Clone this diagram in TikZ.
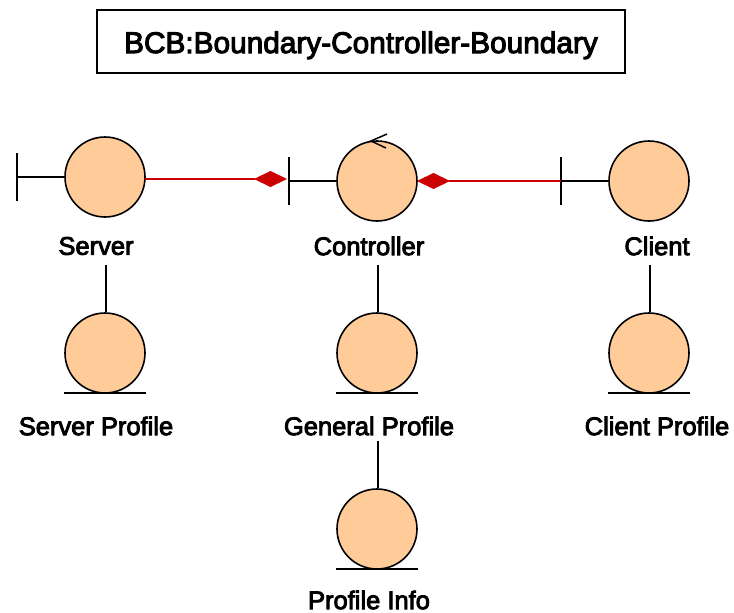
\documentclass[tikz,border=0pt]{standalone}
\usepackage{fontspec}
\setmainfont[UprightFeatures={RawFeature={embolden=3.4}}]{Liberation Sans}
\usetikzlibrary{arrows.meta}
\definecolor{bcbfill}{HTML}{FFCC99}
\definecolor{bcbred}{HTML}{CC0000}
\tikzset{
	robust/.style = {circle, draw, line width = 1.6pt, fill = bcbfill, minimum size = 80pt, inner sep = 0pt},
	caption/.style = {font = \fontsize{25.5}{28}\selectfont, inner sep = 0pt},
	stem/.style = {line width = 1.6pt},
	link/.style = {draw = bcbred, line width = 1.2pt, -{Diamond[length = 33pt, width = 16pt, fill = bcbred]}}
}
\begin{document}
\begin{tikzpicture}[x = 1pt, y = -1pt]
	\useasboundingbox (0,0) rectangle (734,613);
	\node[draw, line width = 1.6pt, minimum width = 528pt, minimum height = 63pt, text height = 30pt, text depth = 7pt, font = \fontsize{29.8}{32}\selectfont] (title) at (361,41.5) {BCB:Boundary-Controller-Boundary};

	% boundary objects
	\foreach \name/\x/\y/\bar in {server/105/177/17, controller/377/181/289, client/649/181/561} {
		\node[robust] (\name) at (\x,\y) {};
		\coordinate (\name Bar) at (\bar,\y);
		\coordinate (\name BarTop) at (\bar,\y-24);
		\coordinate (\name BarEnd) at (\bar,\y+24);
		\draw[stem] (\name BarTop) -- (\name BarEnd);
		\draw[stem] (\name Bar) -- (\name);
	}

	% entity objects
	\foreach \name/\x/\y in {serverProfile/105/353, generalProfile/377/353, clientProfile/649/353, profileInfo/377/529} {
		\node[robust] (\name) at (\x,\y) {};
		\coordinate (\name Left) at (\x-41,\y+40);
		\coordinate (\name Right) at (\x+41,\y+40);
		\draw[stem] (\name Left) -- (\name Right);
	}

	% texts
	\foreach \name/\x/\y/\txt in {serverText/96/246/Server, controllerText/369/246/Controller, clientText/657/246/Client, serverProfileText/96/426/Server Profile, generalProfileText/369/426/General Profile, clientProfileText/657/426/Client Profile, profileInfoText/369/600/Profile Info} {
		\node[caption] (\name) at (\x,\y) {\txt};
	}

	% vertical lines
	\foreach \name/\x/\y in {serverProfile/106/265, generalProfile/378/265, clientProfile/650/265, profileInfo/378/441} {
		\coordinate (\name Stem) at (\x,\y);
		\draw[stem] (\name Stem) -- (\name Stem |- \name.north);
	}

	% red links
	\coordinate (serverOut) at (145,179);
	\coordinate (controllerIn) at (287,179);
	\coordinate (controllerOut) at (417,181);
	\draw[link] (serverOut) -- (controllerIn);
	\draw[link] (clientBar) -- (controllerOut);

	% controller arrow
	\coordinate (turnTip) at (371,141);
	\coordinate (turnUp) at (387,134);
	\coordinate (turnDown) at (386,148);
	\draw[line width = 1.5pt] (turnUp) -- (turnTip) -- (turnDown);
\end{tikzpicture}
\end{document}
